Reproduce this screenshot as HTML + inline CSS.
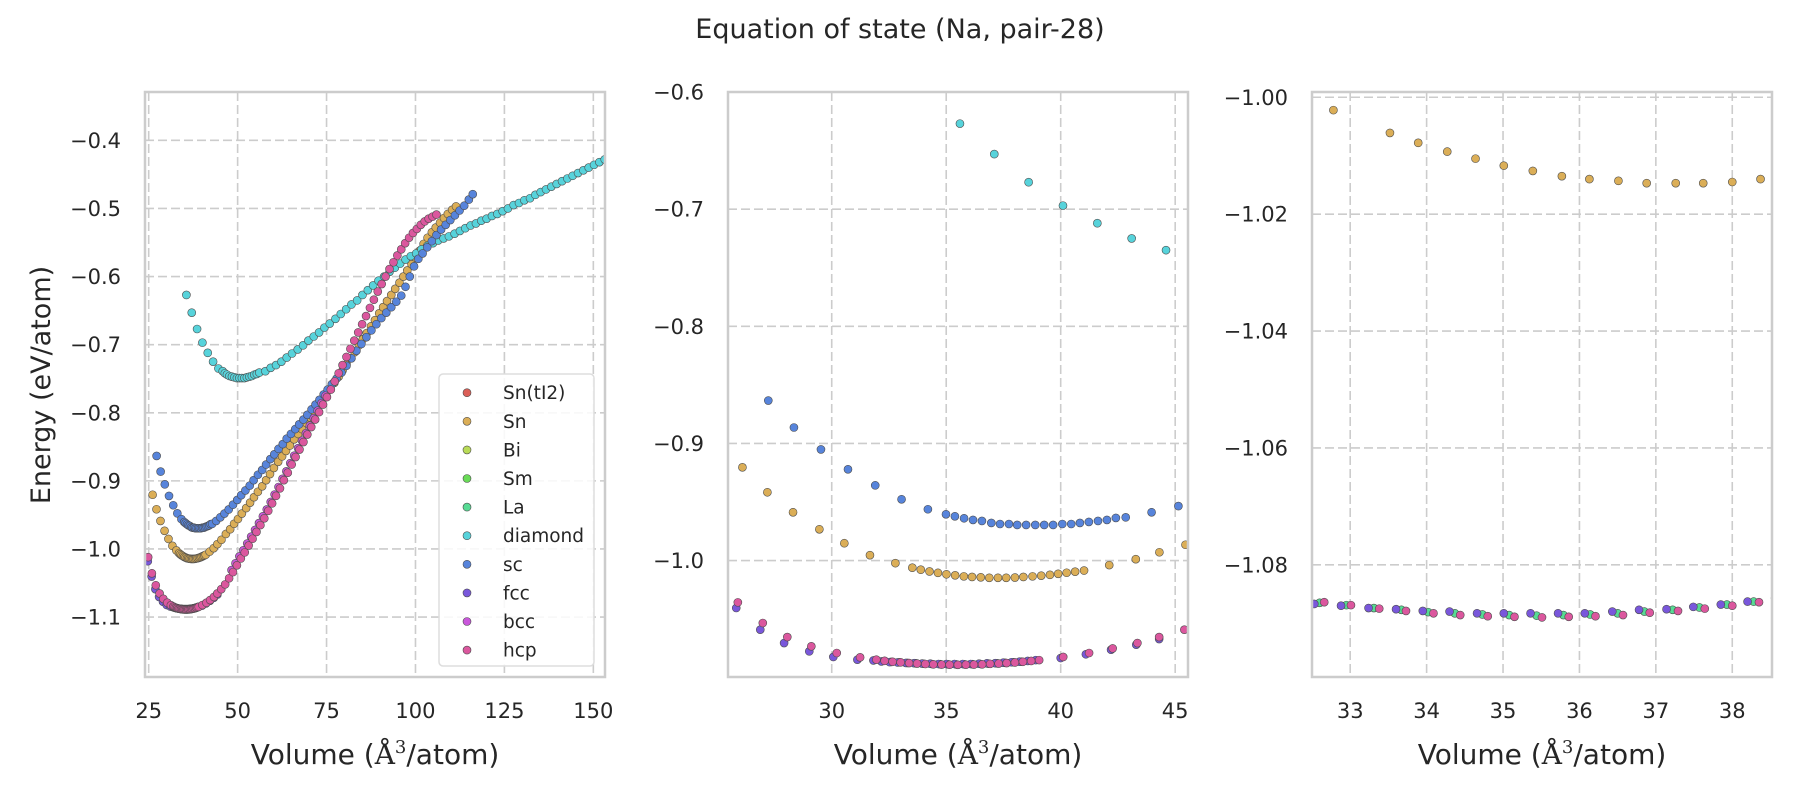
<!DOCTYPE html>
<html><head><meta charset="utf-8"><title>Equation of state (Na, pair-28)</title>
<style>
html,body{margin:0;padding:0;background:#fff;}
svg{display:block;font-family:"DejaVu Sans","Liberation Sans",sans-serif;}
</style></head>
<body>
<svg id="fig" width="1800" height="800" viewBox="0 0 1800 800" xmlns="http://www.w3.org/2000/svg">
<rect width="1800" height="800" fill="#fff"/>
<text x="900" y="38" font-size="27" text-anchor="middle" fill="#262626">Equation of state (Na, pair-28)</text>
<text transform="translate(50,385) rotate(-90)" font-size="27" text-anchor="middle" fill="#262626">Energy (eV/atom)</text>
</svg>
<script>
// ---- data ----
const seriesNames = ["Sn(tI2)","Sn","Bi","Sm","La","diamond","sc","fcc","bcc","hcp"];
const seriesColors = ["#db5f57","#dbae57","#b9db57","#69db57","#57db94","#57d3db","#5784db","#7957db","#c957db","#db579e"];

const snTI2V = [];
const snTI2E = [];
const biV = [];
const biE = [];
const smV = [];
const smE = [];

const snV = [26.10,27.19,28.31,29.46,30.55,31.67,32.78,
 33.52,33.89,34.27,34.64,35.01,35.39,35.77,36.13,36.51,36.88,37.26,37.62,38.00,38.37,38.77,39.15,39.53,39.89,40.26,40.63,41.02,
 42.12,43.28,44.31,45.45,46.7,47.9,49.0,50.1,51.2,52.4,
 53.5,54.6,55.7,56.9,58.0,59.1,60.2,61.4,62.5,63.6,
 64.7,65.9,67.0,68.1,69.3,70.4,71.5,72.7,73.8,74.9,
 76.1,77.2,78.4,79.5,80.6,81.8,82.9,84.1,85.2,86.3,
 87.5,88.6,89.8,90.9,92.0,93.2,94.3,95.5,96.6,97.7,
 98.9,100.0,101.2,102.3,103.4,104.6,105.7,106.9,108.0,109.1,
 110.3,111.4];
const snE = [-0.9204,-0.9417,-0.9588,-0.9733,-0.9852,-0.9954,-1.0022,
 -1.0061,-1.0078,-1.0093,-1.0105,-1.0117,-1.0126,-1.0135,-1.0140,-1.0143,-1.0147,-1.0147,-1.0147,-1.0145,-1.0140,-1.0135,-1.0129,-1.0122,-1.0113,-1.0104,-1.0095,-1.0085,
 -1.0039,-0.9988,-0.9929,-0.9865,-0.978,-0.971,-0.963,-0.956,-0.948,-0.940,
 -0.932,-0.924,-0.916,-0.908,-0.899,-0.890,-0.881,-0.872,-0.864,-0.856,
 -0.848,-0.839,-0.831,-0.824,-0.815,-0.807,-0.799,-0.790,-0.782,-0.773,
 -0.765,-0.756,-0.747,-0.738,-0.729,-0.720,-0.711,-0.701,-0.692,-0.683,
 -0.673,-0.664,-0.654,-0.645,-0.636,-0.627,-0.618,-0.609,-0.600,-0.591,
 -0.582,-0.572,-0.562,-0.552,-0.543,-0.535,-0.528,-0.521,-0.514,-0.508,
 -0.502,-0.497];

const laV = [32.60,32.95,33.31,33.67,34.02,34.37,34.73,35.08,35.44,35.79,36.14,36.50,36.85,37.22,37.57,37.93,38.28];
const laE = [-1.0865,-1.0869,-1.0874,-1.0877,-1.0881,-1.0883,-1.0885,-1.0886,-1.0887,-1.0886,-1.0885,-1.0883,-1.0880,-1.0877,-1.0873,-1.0868,-1.0863];

const diamondV = [35.6,37.1,38.6,40.1,41.6,43.1,44.6,
 45.8,46.4,47.0,47.7,48.4,49.1,49.8,50.5,51.2,51.9,52.6,53.3,54.0,54.7,55.4,56.1,
 57.8,59.3,60.8,62.3,63.8,65.3,66.9,68.4,69.9,71.4,
 72.9,74.4,75.9,77.5,79.0,80.5,82.0,83.6,85.1,86.6,
 88.1,89.6,91.2,92.7,94.2,95.7,97.2,98.7,100.2,101.7,
 103.3,104.9,106.4,107.9,109.4,111.0,112.5,114.0,115.5,117.0,
 118.5,120.0,121.5,123.0,124.5,126.0,127.6,129.1,130.6,132.2,
 133.7,135.2,136.7,138.2,139.7,141.2,142.7,144.2,145.7,147.2,
 148.7,150.2,151.7,153.2];
const diamondE = [-0.627,-0.653,-0.677,-0.697,-0.712,-0.725,-0.735,
 -0.739,-0.742,-0.744,-0.746,-0.747,-0.748,-0.749,-0.749,-0.749,-0.749,-0.748,-0.747,-0.746,-0.744,-0.743,-0.741,
 -0.739,-0.734,-0.730,-0.725,-0.719,-0.713,-0.707,-0.701,-0.694,-0.688,
 -0.682,-0.675,-0.669,-0.662,-0.655,-0.648,-0.641,-0.635,-0.627,-0.620,
 -0.613,-0.606,-0.600,-0.593,-0.587,-0.581,-0.575,-0.570,-0.566,-0.560,
 -0.555,-0.551,-0.547,-0.544,-0.541,-0.537,-0.533,-0.529,-0.525,-0.522,
 -0.518,-0.515,-0.511,-0.508,-0.504,-0.500,-0.495,-0.492,-0.488,-0.485,
 -0.480,-0.476,-0.472,-0.468,-0.464,-0.460,-0.456,-0.452,-0.448,-0.444,
 -0.440,-0.436,-0.432,-0.428];

const scV = [27.23,28.35,29.53,30.71,31.90,33.05,34.20,
 34.99,35.38,35.78,36.17,36.56,36.97,37.35,37.74,38.10,38.49,38.89,39.28,39.67,40.07,40.46,40.84,41.23,41.63,42.02,42.41,42.84,
 43.97,45.14,46.3,47.5,48.7,49.9,51.0,52.2,53.4,54.5,
 55.7,56.9,58.0,59.2,60.3,61.5,62.7,63.8,65.0,66.2,
 67.3,68.5,69.6,70.8,71.9,73.0,74.2,75.3,76.5,77.8,
 79.2,80.6,82.0,83.4,84.8,86.2,87.6,89.0,90.4,91.8,
 93.2,94.6,96.0,97.2,98.4,99.6,100.8,102.0,103.3,104.6,
 105.9,107.2,108.5,109.8,111.1,112.4,113.7,115.0,116.1];
const scE = [-0.8634,-0.8864,-0.9051,-0.9221,-0.9358,-0.9477,-0.9562,
 -0.9605,-0.9622,-0.9639,-0.9653,-0.9662,-0.9679,-0.9688,-0.9688,-0.9696,-0.9696,-0.9696,-0.9696,-0.9696,-0.9688,-0.9688,-0.9679,-0.9670,-0.9662,-0.9653,-0.9636,-0.9631,
 -0.9588,-0.9535,-0.948,-0.942,-0.935,-0.928,-0.921,-0.914,-0.907,-0.899,
 -0.891,-0.884,-0.876,-0.868,-0.861,-0.853,-0.846,-0.838,-0.831,-0.824,
 -0.817,-0.810,-0.803,-0.795,-0.788,-0.781,-0.773,-0.766,-0.758,-0.750,
 -0.741,-0.731,-0.720,-0.709,-0.699,-0.689,-0.679,-0.670,-0.661,-0.653,
 -0.645,-0.637,-0.628,-0.615,-0.600,-0.585,-0.574,-0.566,-0.557,-0.548,
 -0.539,-0.531,-0.524,-0.517,-0.510,-0.503,-0.496,-0.487,-0.479];

const fccV = [24.75,25.83,26.88,27.92,29.02,30.07,31.12,
 31.82,32.17,32.53,32.88,33.24,33.60,33.95,34.30,34.66,35.01,35.36,35.72,36.07,36.43,36.78,37.14,37.49,37.85,38.20,38.56,38.91,
 40.0,41.1,42.2,43.3,44.3];
const fccE = [-1.018,-1.0405,-1.059,-1.0704,-1.0775,-1.0823,-1.0846,
 -1.0853,-1.0861,-1.0867,-1.0870,-1.0874,-1.0876,-1.0879,-1.0880,-1.0883,-1.0883,-1.0883,-1.0883,-1.0883,-1.0880,-1.0877,-1.0876,-1.0872,-1.0868,-1.0863,-1.0857,-1.0850,
 -1.0832,-1.0800,-1.0761,-1.0718,-1.067];

const bccV = [48.3,49.4,50.5,51.6,52.7,53.8,54.9,56.0,57.1,58.2,59.3,60.4,61.5,62.6,63.7,64.8,65.9,67.0,68.1,69.2,70.3,71.4,72.5,73.6,74.7];
const bccE = [-1.031,-1.021,-1.011,-1.002,-0.992,-0.982,-0.972,-0.962,-0.952,-0.942,-0.931,-0.920,-0.909,-0.897,-0.886,-0.874,-0.863,-0.852,-0.841,-0.830,-0.819,-0.808,-0.797,-0.786,-0.775];

const hcpV = [24.85,25.90,26.99,28.06,29.11,30.22,31.24,
 31.95,32.31,32.66,33.01,33.38,33.73,34.09,34.44,34.80,35.15,35.51,35.86,36.21,36.57,36.92,37.29,37.64,38.00,38.35,38.71,39.06,
 40.11,41.24,42.27,43.35,44.30,45.4,46.5,47.6,48.7,49.8,
 50.9,52.0,53.1,54.2,55.3,56.4,57.5,58.6,59.7,60.8,
 61.9,63.0,64.1,65.2,66.3,67.4,68.5,69.6,70.7,71.8,
 72.9,74.0,75.1,76.2,77.3,78.4,79.5,80.6,81.7,82.8,
 83.9,85.0,86.1,87.2,88.3,89.4,90.5,91.6,92.7,93.8,
 94.9,96.0,97.1,98.2,99.3,100.4,101.5,102.6,103.7,104.8,
 105.9];
const hcpE = [-1.012,-1.0357,-1.0533,-1.0653,-1.0732,-1.0789,-1.0826,
 -1.0846,-1.0856,-1.0864,-1.0869,-1.0875,-1.0879,-1.0883,-1.0886,-1.0888,-1.0889,-1.0890,-1.0889,-1.0888,-1.0886,-1.0882,-1.0879,-1.0875,-1.0870,-1.0864,-1.0857,-1.0850,
 -1.0823,-1.0789,-1.0750,-1.0704,-1.0653,-1.059,-1.052,-1.043,-1.034,-1.024,
 -1.014,-1.005,-0.995,-0.985,-0.975,-0.965,-0.955,-0.944,-0.933,-0.922,
 -0.911,-0.899,-0.888,-0.876,-0.865,-0.854,-0.843,-0.832,-0.821,-0.810,
 -0.799,-0.788,-0.777,-0.766,-0.754,-0.742,-0.730,-0.718,-0.706,-0.694,
 -0.682,-0.670,-0.658,-0.646,-0.634,-0.622,-0.611,-0.600,-0.589,-0.579,
 -0.569,-0.560,-0.551,-0.543,-0.536,-0.530,-0.524,-0.519,-0.515,-0.512,
 -0.509];

const p1XTicks = [25,50,75,100,125,150];
const p1YTicks = [-0.4,-0.5,-0.6,-0.7,-0.8,-0.9,-1.0,-1.1];
const p2XTicks = [30,35,40,45];
const p2YTicks = [-0.6,-0.7,-0.8,-0.9,-1.0];
const p3XTicks = [33,34,35,36,37,38];
const p3YTicks = [-1.00,-1.02,-1.04,-1.06,-1.08];

// ---- rendering ----
const NS = "http://www.w3.org/2000/svg";
const svg = document.getElementById("fig");
const allV = [snTI2V,snV,biV,smV,laV,diamondV,scV,fccV,bccV,hcpV];
const allE = [snTI2E,snE,biE,smE,laE,diamondE,scE,fccE,bccE,hcpE];

function mk(tag, attrs, parent){
  const el = document.createElementNS(NS, tag);
  for (const k in attrs) el.setAttribute(k, attrs[k]);
  (parent||svg).appendChild(el);
  return el;
}
function fmt(v, dec){ return (v<0?"\u2212":"") + Math.abs(v).toFixed(dec); }

const panels = [
  {id:"p1", x0:145, x1:605, y0:92, y1:677, xmin:23.96, xmax:153.28, ymin:-1.188, ymax:-0.329, xt:p1XTicks, yt:p1YTicks, xd:0, yd:1},
  {id:"p2", x0:728, x1:1188, y0:92, y1:677, xmin:25.47, xmax:45.56, ymin:-1.0994, ymax:-0.6, xt:p2XTicks, yt:p2YTicks, xd:0, yd:1},
  {id:"p3", x0:1312, x1:1772, y0:92, y1:677, xmin:32.5, xmax:38.52, ymin:-1.0992, ymax:-0.9991, xt:p3XTicks, yt:p3YTicks, xd:0, yd:2}
];

const defs = mk("defs", {});
panels.forEach((p, pi) => {
  const sx = v => p.x0 + (v - p.xmin) / (p.xmax - p.xmin) * (p.x1 - p.x0);
  const sy = v => p.y1 - (v - p.ymin) / (p.ymax - p.ymin) * (p.y1 - p.y0);
  const g = mk("g", {});
  
  
  const cp = mk("clipPath", {id:"clip"+pi}, defs);
  mk("rect", {x:p.x0, y:p.y0, width:p.x1-p.x0, height:p.y1-p.y0}, cp);
  p.xt.forEach(t => {
    const x = sx(t);
    const l = mk("line", {x1:x, x2:x, y1:p.y0, y2:p.y1, stroke:"#cccccc", "stroke-width":1.6, "stroke-dasharray":"9,4"}, g);
    
    
    const tx = mk("text", {x:x, y:718, "font-size":21, "text-anchor":"middle", fill:"#262626"}, g);
    
    
    tx.textContent = String(t);
  });
  p.yt.forEach(t => {
    const y = sy(t);
    const l = mk("line", {x1:p.x0, x2:p.x1, y1:y, y2:y, stroke:"#cccccc", "stroke-width":1.6, "stroke-dasharray":"9,4"}, g);
    
    
    const tx = mk("text", {x:p.x0-24, y:y+7.5, "font-size":21, "text-anchor":"end", fill:"#262626"}, g);
    
    
    tx.textContent = fmt(t, p.yd);
  });
  const pg = mk("g", {"clip-path":"url(#clip"+pi+")"}, g);
  
  
  allV.forEach((vs, si) => {
    const es = allE[si];
    const n = Math.min(vs.length, es.length);
    for (let i = 0; i < n; i++) {
      const c = mk("circle", {cx:sx(vs[i]).toFixed(2), cy:sy(es[i]).toFixed(2), r:4, fill:seriesColors[si], stroke:"#4d4d4d", "stroke-width":0.6}, pg);
      
      
    }
  });
  const fr = mk("rect", {x:p.x0, y:p.y0, width:p.x1-p.x0, height:p.y1-p.y0, fill:"none", stroke:"#cccccc", "stroke-width":2.5}, g);
  
  
  const xl = mk("text", {x:(p.x0+p.x1)/2, y:764, "font-size":28, "text-anchor":"middle", fill:"#262626"}, g);
  
  
  const t1 = mk("tspan", {}, xl); t1.textContent = "Volume (";
  const t2 = mk("tspan", {"font-family":"'DejaVu Serif','Liberation Serif',serif"}, xl); t2.textContent = "Å";
  const t3 = mk("tspan", {"font-family":"'DejaVu Serif','Liberation Serif',serif", "font-size":18, dy:-11}, xl); t3.textContent = "3";
  const t4 = mk("tspan", {dy:11}, xl); t4.textContent = "/atom)";
});

const lg = mk("g", {});


mk("rect", {x:439, y:374, width:155, height:292, rx:4, fill:"#ffffff", "fill-opacity":0.85, stroke:"#dddddd", "stroke-width":1.5}, lg);
seriesNames.forEach((nm, i) => {
  const cy = 392.7 + i * 28.6;
  const e = mk("g", {}, lg);
  
  
  mk("circle", {cx:467, cy:cy, r:4, fill:seriesColors[i], stroke:"#4d4d4d", "stroke-width":0.6}, e);
  const t = mk("text", {x:503, y:cy+6.5, "font-size":18.5, fill:"#262626"}, e);
  t.textContent = nm;
});
</script>
</body></html>
